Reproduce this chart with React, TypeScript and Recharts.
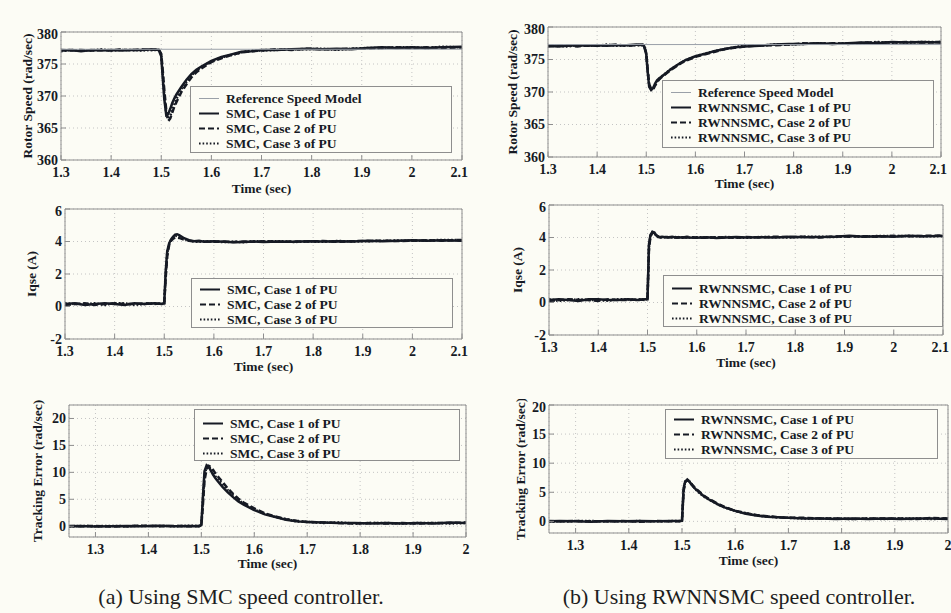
import { CartesianGrid, Legend, Line, LineChart, XAxis, YAxis } from "recharts";

// sample times (sec)
const speedTime = [
  1.3, 1.32, 1.34, 1.36, 1.38, 1.4, 1.42, 1.44, 1.46, 1.48,
  1.495, 1.5, 1.503, 1.506, 1.51, 1.514, 1.518, 1.522, 1.526, 1.53,
  1.54, 1.55, 1.56, 1.57, 1.58, 1.6, 1.62, 1.64, 1.66, 1.68,
  1.7, 1.73, 1.76, 1.79, 1.82, 1.85, 1.88, 1.91, 1.94, 1.97, 2.0, 2.03, 2.06, 2.1,
];
const errTime = [
  1.25, 1.27, 1.3, 1.33, 1.36, 1.39, 1.42, 1.45, 1.48,
  1.495, 1.5, 1.503, 1.506, 1.51, 1.514, 1.518, 1.522, 1.526, 1.53,
  1.54, 1.55, 1.56, 1.57, 1.58, 1.6, 1.62, 1.64, 1.66, 1.68,
  1.7, 1.73, 1.76, 1.79, 1.82, 1.85, 1.88, 1.91, 1.94, 1.97, 2.0,
];
const refTime = [1.3, 2.1];
const refSpeed = [377.3, 377.3];

// (a) SMC
const smcSpeedCase1 = [
  377.1, 377.2, 377.0, 377.2, 377.1, 377.2, 377.1, 377.2, 377.2, 377.3,
  377.2, 376.2, 372.8, 369.6, 367.0, 367.2, 368.0, 368.9, 369.6, 370.2,
  371.4, 372.5, 373.4, 374.1, 374.6, 375.5, 376.1, 376.5, 376.9, 377.0,
  377.2, 377.2, 377.3, 377.4, 377.3, 377.4, 377.3, 377.5, 377.6, 377.5, 377.6, 377.5, 377.6, 377.7,
];
const smcSpeedCase2 = [
  377.2, 377.1, 377.2, 377.1, 377.2, 377.1, 377.3, 377.1, 377.3, 377.2,
  377.3, 376.6, 374.0, 371.0, 367.8, 366.1, 366.5, 367.4, 368.3, 369.0,
  370.6, 371.8, 372.9, 373.7, 374.3, 375.3, 375.9, 376.4, 376.8, 377.0,
  377.1, 377.3, 377.2, 377.4, 377.3, 377.3, 377.4, 377.4, 377.5, 377.6, 377.5, 377.6, 377.5, 377.6,
];
const smcSpeedCase3 = [
  377.0, 377.2, 377.1, 377.1, 377.3, 377.1, 377.2, 377.2, 377.1, 377.2,
  377.2, 376.4, 373.4, 370.2, 367.2, 366.4, 366.9, 367.8, 368.7, 369.5,
  371.0, 372.2, 373.2, 373.9, 374.5, 375.4, 376.0, 376.4, 376.8, 377.1,
  377.1, 377.2, 377.3, 377.3, 377.4, 377.2, 377.4, 377.5, 377.5, 377.6, 377.6, 377.5, 377.7, 377.6,
];
const smcIqseCase1 = [
  0.15, 0.2, 0.1, 0.15, 0.2, 0.15, 0.1, 0.2, 0.15, 0.2,
  0.15, 0.2, 2.2, 3.4, 3.9, 4.15, 4.3, 4.42, 4.45, 4.4,
  4.2, 4.08, 4.02, 4.05, 3.98, 4.02, 3.98, 3.95, 3.97, 4.0,
  3.97, 4.0, 3.98, 4.02, 4.0, 4.02, 4.0, 4.05, 4.02, 4.05, 4.08, 4.05, 4.08, 4.05,
];
const smcIqseCase2 = [
  0.1, 0.15, 0.2, 0.1, 0.15, 0.2, 0.15, 0.15, 0.2, 0.15,
  0.2, 0.2, 1.8, 3.1, 3.8, 4.05, 4.18, 4.24, 4.25, 4.22,
  4.12, 4.05, 4.0, 4.02, 4.0, 3.98, 4.0, 3.97, 4.0, 3.98,
  4.02, 3.98, 4.0, 4.0, 4.03, 3.98, 4.02, 4.03, 4.05, 4.03, 4.05, 4.08, 4.05, 4.1,
];
const smcIqseCase3 = [
  0.2, 0.15, 0.15, 0.2, 0.1, 0.2, 0.2, 0.1, 0.15, 0.2,
  0.15, 0.25, 2.0, 3.3, 3.85, 4.1, 4.25, 4.33, 4.35, 4.3,
  4.15, 4.05, 4.0, 3.98, 4.02, 4.0, 3.96, 3.99, 3.96, 4.02,
  4.0, 4.02, 3.97, 4.0, 3.98, 4.03, 4.0, 4.02, 4.04, 4.06, 4.04, 4.06, 4.1, 4.08,
];
const smcErrCase1 = [
  0.0, 0.05, -0.05, 0.0, 0.05, 0.0, 0.1, 0.0, 0.05,
  0.0, 0.2, 5.5, 10.2, 11.3, 11.0, 10.3, 9.6, 9.0, 8.5,
  7.3, 6.3, 5.4, 4.6, 4.0, 3.0, 2.2, 1.7, 1.2, 0.9,
  0.8, 0.7, 0.6, 0.6, 0.5, 0.6, 0.5, 0.6, 0.5, 0.7, 0.6,
];
const smcErrCase2 = [
  0.05, 0.0, 0.05, -0.05, 0.0, 0.1, 0.0, 0.05, 0.0,
  0.05, 0.1, 4.0, 8.5, 10.6, 11.2, 11.0, 10.5, 9.9, 9.4,
  8.2, 7.0, 6.0, 5.1, 4.4, 3.3, 2.4, 1.8, 1.3, 1.0,
  0.8, 0.7, 0.6, 0.5, 0.6, 0.5, 0.6, 0.5, 0.6, 0.6, 0.7,
];
const smcErrCase3 = [
  -0.05, 0.05, 0.0, 0.05, 0.0, 0.05, 0.05, 0.0, 0.1,
  0.0, 0.15, 4.8, 9.5, 11.0, 11.1, 10.6, 10.0, 9.3, 8.9,
  7.8, 6.7, 5.7, 4.9, 4.2, 3.1, 2.3, 1.7, 1.3, 0.9,
  0.8, 0.6, 0.7, 0.5, 0.6, 0.6, 0.5, 0.6, 0.6, 0.5, 0.6,
];

// (b) RWNNSMC
const rwnnSpeedCase1 = [
  377.1, 377.0, 377.1, 377.2, 377.1, 377.2, 377.1, 377.2, 377.2, 377.3,
  377.2, 375.8, 373.0, 370.8, 370.3, 370.6, 371.3, 371.8, 372.1, 372.3,
  372.9, 373.5, 374.0, 374.5, 374.9, 375.5, 375.9, 376.3, 376.6, 376.9,
  377.0, 377.1, 377.3, 377.4, 377.4, 377.5, 377.4, 377.5, 377.6, 377.5, 377.7, 377.6, 377.7, 377.6,
];
const rwnnSpeedCase2 = [
  377.0, 377.1, 377.2, 377.0, 377.2, 377.1, 377.2, 377.3, 377.1, 377.2,
  377.3, 376.0, 373.4, 371.2, 370.5, 370.4, 371.0, 371.5, 371.9, 372.2,
  372.8, 373.4, 373.9, 374.4, 374.8, 375.4, 375.8, 376.2, 376.6, 376.8,
  377.0, 377.2, 377.2, 377.3, 377.5, 377.4, 377.5, 377.4, 377.6, 377.6, 377.6, 377.7, 377.6, 377.7,
];
const rwnnSpeedCase3 = [
  377.1, 377.1, 377.0, 377.2, 377.1, 377.1, 377.3, 377.1, 377.2, 377.2,
  377.2, 375.9, 373.2, 371.0, 370.4, 370.5, 371.1, 371.6, 372.0, 372.3,
  372.9, 373.5, 374.0, 374.4, 374.9, 375.5, 375.9, 376.3, 376.6, 376.9,
  377.1, 377.1, 377.3, 377.3, 377.4, 377.5, 377.4, 377.5, 377.5, 377.7, 377.6, 377.6, 377.7, 377.7,
];
const rwnnIqseCase1 = [
  0.15, 0.2, 0.15, 0.1, 0.2, 0.2, 0.15, 0.15, 0.2, 0.15,
  0.2, 0.2, 3.6, 4.15, 4.35, 4.3, 4.12, 4.05, 4.02, 4.05,
  4.0, 4.05, 3.98, 4.02, 4.0, 3.98, 4.02, 3.97, 4.0, 4.03,
  4.0, 4.02, 4.0, 4.05, 4.02, 4.03, 4.05, 4.1, 4.05, 4.07, 4.05, 4.1, 4.08, 4.1,
];
const rwnnIqseCase2 = [
  0.1, 0.15, 0.2, 0.15, 0.15, 0.1, 0.2, 0.15, 0.15, 0.2,
  0.15, 0.25, 3.3, 4.05, 4.3, 4.28, 4.15, 4.05, 4.0, 4.02,
  4.03, 3.98, 4.02, 4.0, 4.04, 4.0, 3.98, 4.02, 4.0, 3.98,
  4.03, 4.0, 4.05, 4.02, 4.05, 4.0, 4.07, 4.05, 4.08, 4.05, 4.1, 4.07, 4.1, 4.12,
];
const rwnnIqseCase3 = [
  0.2, 0.1, 0.15, 0.2, 0.15, 0.15, 0.1, 0.2, 0.2, 0.15,
  0.2, 0.2, 3.45, 4.1, 4.32, 4.25, 4.1, 4.02, 4.05, 4.0,
  4.02, 4.0, 4.04, 3.98, 4.0, 4.02, 4.0, 4.0, 4.03, 4.0,
  3.98, 4.03, 4.02, 4.0, 4.04, 4.05, 4.03, 4.08, 4.05, 4.1, 4.08, 4.1, 4.06, 4.1,
];
const rwnnErrCase1 = [
  0.0, 0.05, 0.0, -0.05, 0.05, 0.0, 0.05, 0.0, 0.05,
  0.05, 0.1, 5.6, 6.9, 7.1, 6.8, 6.3, 5.9, 5.5, 5.2,
  4.4, 3.8, 3.3, 2.8, 2.4, 1.8, 1.3, 1.0, 0.8, 0.7,
  0.6, 0.5, 0.5, 0.4, 0.5, 0.4, 0.5, 0.4, 0.5, 0.5, 0.4,
];
const rwnnErrCase2 = [
  0.05, 0.0, 0.05, 0.0, 0.0, 0.05, -0.05, 0.05, 0.0,
  0.0, 0.15, 5.2, 6.7, 7.2, 6.9, 6.4, 6.0, 5.6, 5.3,
  4.5, 3.9, 3.4, 2.9, 2.5, 1.8, 1.4, 1.1, 0.9, 0.7,
  0.6, 0.6, 0.5, 0.5, 0.4, 0.5, 0.5, 0.5, 0.4, 0.6, 0.5,
];
const rwnnErrCase3 = [
  -0.05, 0.0, 0.05, 0.05, 0.0, 0.0, 0.05, 0.0, 0.05,
  0.05, 0.1, 5.4, 6.8, 7.0, 6.9, 6.4, 5.9, 5.5, 5.1,
  4.3, 3.8, 3.3, 2.8, 2.4, 1.8, 1.4, 1.0, 0.8, 0.7,
  0.6, 0.5, 0.5, 0.5, 0.4, 0.5, 0.4, 0.5, 0.5, 0.4, 0.5,
];

// ticks and labels
const xTicksFull = [1.3, 1.4, 1.5, 1.6, 1.7, 1.8, 1.9, 2, 2.1];
const xTicksErr = [1.3, 1.4, 1.5, 1.6, 1.7, 1.8, 1.9, 2];
const speedTicks = [360, 365, 370, 375, 380];
const iqseTicks = [-2, 0, 2, 4, 6];
const errTicks = [0, 5, 10, 15, 20];

const refLabel = "Reference Speed Model";
const smcLabels = ["SMC, Case 1 of PU", "SMC, Case 2 of PU", "SMC, Case 3 of PU"];
const rwnnLabels = [
  "RWNNSMC, Case 1 of PU",
  "RWNNSMC, Case 2 of PU",
  "RWNNSMC, Case 3 of PU",
];
const captions = [
  "(a) Using SMC speed controller.",
  "(b) Using RWNNSMC speed controller.",
];

const BG = "#fcfcf5";
const INK = "#161a24";
const AXIS = "#8e8e8e";
const SERIF = "'Liberation Serif', 'Times New Roman', serif";
const caseDash = [undefined, "6 3", "1.6 2"];

const toPoints = (time: number[], values: number[]) =>
  time.map((t, i) => ({ t, v: values[i] }));

interface PanelSpec {
  key: string;
  x0: number;
  y0: number;
  x1: number;
  y1: number;
  xDomain: [number, number];
  xTicks: number[];
  yDomain: [number, number];
  yTicks: number[];
  yLabel: string;
  yGap: number;
  xGap: number;
  time: number[];
  cases: number[][];
  labels: string[];
  withRef: boolean;
  legend: { x: number; y: number; w: number; h: number; first: number };
}

const panels: PanelSpec[] = [
  {
    key: "smc-speed", x0: 61, y0: 32, x1: 462, y1: 160,
    xDomain: [1.3, 2.1], xTicks: xTicksFull, yDomain: [360, 380], yTicks: speedTicks,
    yLabel: "Rotor Speed (rad/sec)", yGap: 34, xGap: 28,
    time: speedTime, cases: [smcSpeedCase1, smcSpeedCase2, smcSpeedCase3],
    labels: smcLabels, withRef: true,
    legend: { x: 190, y: 86, w: 262, h: 67, first: 98 },
  },
  {
    key: "smc-iqse", x0: 65, y0: 209, x1: 462, y1: 339,
    xDomain: [1.3, 2.1], xTicks: xTicksFull, yDomain: [-2, 6], yTicks: iqseTicks,
    yLabel: "Iqse (A)", yGap: 34, xGap: 27,
    time: speedTime, cases: [smcIqseCase1, smcIqseCase2, smcIqseCase3],
    labels: smcLabels, withRef: false,
    legend: { x: 191, y: 278, w: 262, h: 50, first: 289 },
  },
  {
    key: "smc-err", x0: 69, y0: 405, x1: 466, y1: 537,
    xDomain: [1.25, 2], xTicks: xTicksErr, yDomain: [-2, 22.5], yTicks: errTicks,
    yLabel: "Tracking Error (rad/sec)", yGap: 32, xGap: 26,
    time: errTime, cases: [smcErrCase1, smcErrCase2, smcErrCase3],
    labels: smcLabels, withRef: false,
    legend: { x: 194, y: 409, w: 266, h: 52, first: 423 },
  },
  {
    key: "rwnn-speed", x0: 548, y0: 27, x1: 941, y1: 157,
    xDomain: [1.3, 2.1], xTicks: xTicksFull, yDomain: [360, 380], yTicks: speedTicks,
    yLabel: "Rotor Speed (rad/sec)", yGap: 36, xGap: 26,
    time: speedTime, cases: [rwnnSpeedCase1, rwnnSpeedCase2, rwnnSpeedCase3],
    labels: rwnnLabels, withRef: true,
    legend: { x: 662, y: 80, w: 272, h: 68, first: 92 },
  },
  {
    key: "rwnn-iqse", x0: 549, y0: 205, x1: 943, y1: 335,
    xDomain: [1.3, 2.1], xTicks: xTicksFull, yDomain: [-2, 6], yTicks: iqseTicks,
    yLabel: "Iqse (A)", yGap: 32, xGap: 27,
    time: speedTime, cases: [rwnnIqseCase1, rwnnIqseCase2, rwnnIqseCase3],
    labels: rwnnLabels, withRef: false,
    legend: { x: 663, y: 275, w: 280, h: 52, first: 288 },
  },
  {
    key: "rwnn-err", x0: 549, y0: 405, x1: 948, y1: 533,
    xDomain: [1.25, 2], xTicks: xTicksErr, yDomain: [-2, 20], yTicks: errTicks,
    yLabel: "Tracking Error (rad/sec)", yGap: 29, xGap: 27,
    time: errTime, cases: [rwnnErrCase1, rwnnErrCase2, rwnnErrCase3],
    labels: rwnnLabels, withRef: false,
    legend: { x: 665, y: 409, w: 273, h: 50, first: 419 },
  },
];

const tickStyle = { fill: INK, fontSize: 14, fontWeight: "bold", fontFamily: SERIF };
const titleStyle = { fill: INK, fontSize: 13.5, fontWeight: "bold", fontFamily: SERIF };

const LegendBox = ({ p }: { p: PanelSpec }) => {
  const rows = [
    ...(p.withRef ? [{ label: refLabel, stroke: "#9aa0a8", width: 1, dash: undefined }] : []),
    ...p.labels.map((label, i) => ({ label, stroke: INK, width: 2, dash: caseDash[i] })),
  ];
  return (
    <div
      style={{
        width: p.legend.w,
        height: p.legend.h,
        boxSizing: "border-box",
        border: `1px solid ${AXIS}`,
        background: BG,
        paddingTop: p.legend.first - p.legend.y - 8,
      }}
    >
      {rows.map((r) => (
        <div key={r.label} style={{ display: "flex", alignItems: "center", height: 15 }}>
          <svg width={35} height={15} style={{ flex: "none" }}>
            <line x1={8} x2={28} y1={7.5} y2={7.5} stroke={r.stroke} strokeWidth={r.width} strokeDasharray={r.dash} />
          </svg>
          <span
            style={{
              fontFamily: SERIF,
              fontWeight: "bold",
              fontSize: 13.5,
              lineHeight: "15px",
              color: INK,
              whiteSpace: "nowrap",
            }}
          >
            {r.label}
          </span>
        </div>
      ))}
    </div>
  );
};

const Panel = ({ p }: { p: PanelSpec }) => {
  const L = p.yGap * 2;
  const B = p.xGap * 2;
  const T = 6;
  const R = 6;
  const left = p.x0 - L;
  const top = p.y0 - T;
  const width = p.x1 - p.x0 + L + R;
  const height = p.y1 - p.y0 + T + B;

  return (
    <div style={{ position: "absolute", left, top }}>
      <LineChart width={width} height={height} margin={{ top: T - 1, right: R - 1, bottom: 0, left: 0 }}>
        <CartesianGrid stroke="#c4c4c4" strokeDasharray="1 3" />
        <XAxis
          dataKey="t"
          type="number"
          domain={p.xDomain}
          ticks={p.xTicks}
          allowDataOverflow
          height={B}
          stroke={AXIS}
          tickSize={-5}
          tickMargin={12}
          tick={tickStyle}
          tickFormatter={(v) => String(v)}
          label={{ value: "Time (sec)", position: "center", ...titleStyle }}
        />
        <XAxis
          xAxisId="top"
          orientation="top"
          dataKey="t"
          type="number"
          domain={p.xDomain}
          ticks={p.xTicks}
          allowDataOverflow
          height={1}
          stroke={AXIS}
          tickSize={-5}
          tick={false}
        />
        <YAxis
          type="number"
          domain={p.yDomain}
          ticks={p.yTicks}
          allowDataOverflow
          width={L}
          stroke={AXIS}
          tickSize={-5}
          tickMargin={8}
          tick={tickStyle}
          label={{ value: p.yLabel, angle: -90, position: "center", ...titleStyle }}
        />
        <YAxis
          yAxisId="right"
          orientation="right"
          type="number"
          domain={p.yDomain}
          ticks={p.yTicks}
          allowDataOverflow
          width={1}
          stroke={AXIS}
          tickSize={-5}
          tick={false}
        />
        {p.cases.map((values, i) => (
          <Line
            key={`${p.key}-${i}`}
            data={toPoints(p.time, values)}
            dataKey="v"
            name={p.labels[i]}
            type="linear"
            stroke={INK}
            strokeWidth={2.5}
            strokeDasharray={caseDash[i]}
            dot={false}
            activeDot={false}
            isAnimationActive={false}
          />
        ))}
        {p.withRef && (
          <Line
            data={toPoints(refTime, refSpeed)}
            dataKey="v"
            name={refLabel}
            type="linear"
            stroke="#9aa0a8"
            strokeWidth={1}
            dot={false}
            activeDot={false}
            isAnimationActive={false}
          />
        )}
        <Legend
          layout="horizontal"
          verticalAlign="middle"
          align="center"
          wrapperStyle={{
            left: p.legend.x - left,
            top: p.legend.y - top,
            width: p.legend.w,
            height: p.legend.h,
          }}
          content={() => <LegendBox p={p} />}
        />
      </LineChart>
    </div>
  );
};

export default function App() {
  return (
    <div
      style={{
        position: "absolute",
        left: 0,
        top: 0,
        width: 951,
        height: 613,
        overflow: "hidden",
        background: BG,
      }}
    >
      {panels.map((p) => (
        <Panel key={p.key} p={p} />
      ))}
      {captions.map((c, i) => (
        <div
          key={c}
          style={{
            position: "absolute",
            left: i === 0 ? 241 - 200 : 739 - 200,
            width: 400,
            top: 583,
            textAlign: "center",
            fontFamily: SERIF,
            fontSize: 22,
            lineHeight: "28px",
            color: "#1e1e1e",
            whiteSpace: "nowrap",
          }}
        >
          {c}
        </div>
      ))}
    </div>
  );
}
